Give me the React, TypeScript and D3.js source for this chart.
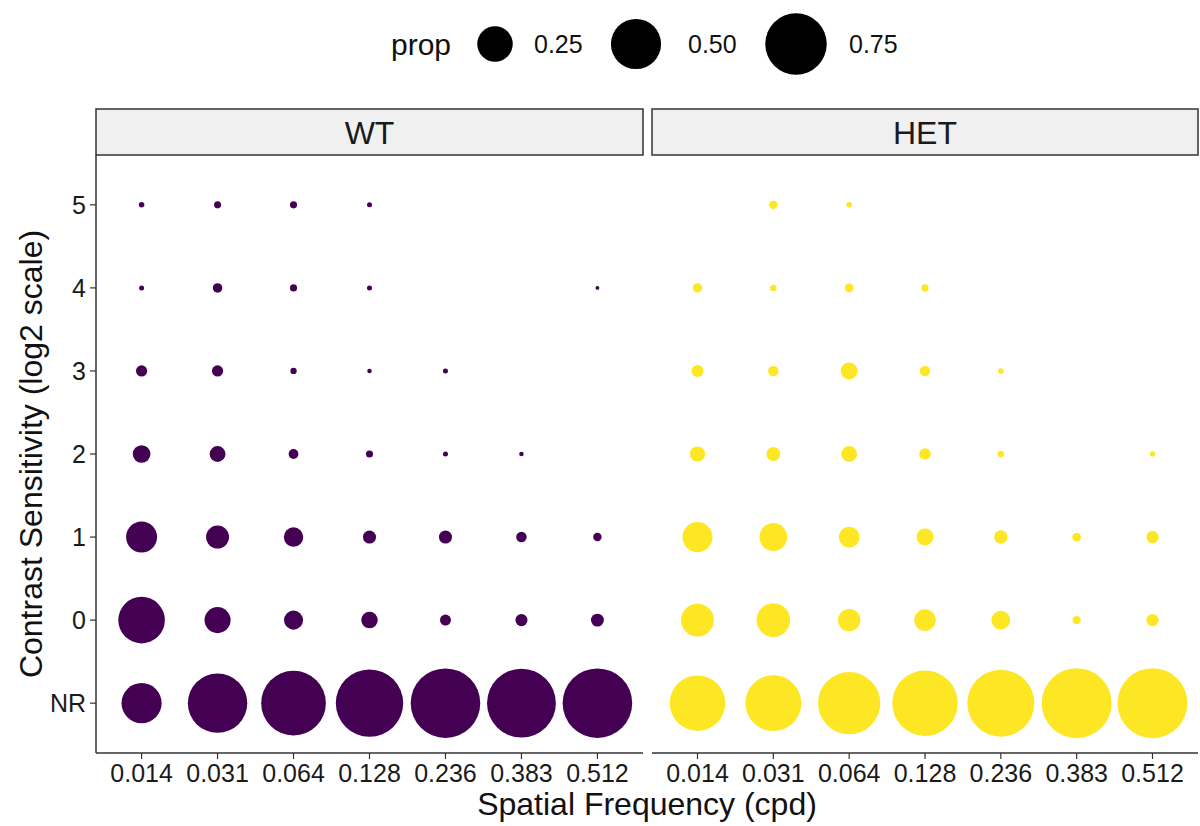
import React from "react";
import * as d3 from "d3";

const frequencies = ["0.014", "0.031", "0.064", "0.128", "0.236", "0.383", "0.512"];
const levels = ["NR", "0", "1", "2", "3", "4", "5"];
const genotypes = ["WT", "HET"];
const genotypeColors = ["#440154", "#FDE725"];
const legendValues = [0.25, 0.5, 0.75];
const legendLabels = ["0.25", "0.50", "0.75"];

// rows follow `levels` (NR, 0, 1, 2, 3, 4, 5); columns follow `frequencies`; 0 = no point
const wtProps = [
  [0.32, 0.7, 0.83, 0.9, 0.96, 0.94, 0.96],
  [0.43, 0.135, 0.072, 0.054, 0.024, 0.029, 0.033],
  [0.19, 0.105, 0.075, 0.034, 0.034, 0.022, 0.014],
  [0.062, 0.05, 0.019, 0.01, 0.005, 0.004, 0],
  [0.025, 0.025, 0.008, 0.004, 0.005, 0, 0],
  [0.005, 0.018, 0.01, 0.005, 0, 0, 0.003],
  [0.006, 0.01, 0.01, 0.005, 0, 0, 0],
];
const hetProps = [
  [0.61, 0.62, 0.77, 0.85, 0.89, 0.97, 0.97],
  [0.214, 0.224, 0.1, 0.092, 0.07, 0.014, 0.03],
  [0.18, 0.154, 0.086, 0.057, 0.036, 0.015, 0.03],
  [0.046, 0.038, 0.05, 0.027, 0.008, 0, 0.006],
  [0.029, 0.022, 0.057, 0.022, 0.006, 0, 0],
  [0.017, 0.008, 0.015, 0.01, 0, 0, 0],
  [0, 0.014, 0.006, 0, 0, 0, 0],
];
const panelData = [wtProps, hetProps];

const W = 1200;
const H = 826;
const FONT = "'Liberation Sans', Arial, sans-serif";
const panelTop = 155;
const panelBottom = 753;
const panels = [
  { left: 96, right: 643 },
  { left: 652, right: 1198 },
];
const stripTop = 109;
const axisColor = "#333333";
const legendCircleX = [495, 636, 796];
const legendLabelX = [534, 688, 849];

export default function App() {
  const y = d3.scalePoint<string>().domain(levels).range([panelBottom, panelTop]).padding(0.6);
  const r = d3.scaleSqrt().domain([0, 1]).range([0, 35.5]);

  return (
    <svg
      width={W}
      height={H}
      style={{ position: "absolute", left: 0, top: 0, background: "#fff" }}
      fontFamily={FONT}
    >
      <rect x={0} y={0} width={W} height={H} fill="#fff" />
      {/* legend */}
      <g>
        <text x={391} y={55} fontSize={30} fill="#111">prop</text>
        {legendValues.map((v, i) => (
          <g key={i}>
            <circle cx={legendCircleX[i]} cy={44} r={r(v)} fill="#000" />
            <text x={legendLabelX[i]} y={53} fontSize={25} fill="#111">
              {legendLabels[i]}
            </text>
          </g>
        ))}
      </g>

      {panels.map((p, pi) => {
        const x = d3.scalePoint<string>().domain(frequencies).range([p.left, p.right]).padding(0.6);
        const data = panelData[pi];
        return (
          <g key={pi}>
            {/* strip */}
            <rect
              x={p.left}
              y={stripTop}
              width={p.right - p.left}
              height={panelTop - stripTop}
              fill="#F0F0F0"
              stroke={axisColor}
              strokeWidth={1.5}
            />
            <text
              x={(p.left + p.right) / 2}
              y={(stripTop + panelTop) / 2 + 11.5}
              textAnchor="middle"
              fontSize={32}
              fill="#1a1a1a"
            >
              {genotypes[pi]}
            </text>
            {/* points */}
            {data.map((row, li) =>
              row.map((v, fi) =>
                v > 0 ? (
                  <circle
                    key={`${li}-${fi}`}
                    cx={x(frequencies[fi])}
                    cy={y(levels[li])}
                    r={r(v)}
                    fill={genotypeColors[pi]}
                  />
                ) : null
              )
            )}
            {/* x axis */}
            <line x1={p.left} x2={p.right} y1={panelBottom} y2={panelBottom} stroke={axisColor} strokeWidth={1.5} />
            {frequencies.map((f) => (
              <g key={f}>
                <line x1={x(f)} x2={x(f)} y1={panelBottom} y2={panelBottom + 6} stroke={axisColor} strokeWidth={1.2} />
                <text x={x(f)} y={782} textAnchor="middle" fontSize={25} fill="#1a1a1a">
                  {f}
                </text>
              </g>
            ))}
            {pi === 0 && (
              <g>
                <line x1={p.left} x2={p.left} y1={panelTop} y2={panelBottom} stroke={axisColor} strokeWidth={1.5} />
                {levels.map((l) => (
                  <g key={l}>
                    <line x1={p.left - 6} x2={p.left} y1={y(l)} y2={y(l)} stroke={axisColor} strokeWidth={1.2} />
                    <text x={p.left - 10} y={(y(l) as number) + 9} textAnchor="end" fontSize={25} fill="#1a1a1a">
                      {l}
                    </text>
                  </g>
                ))}
              </g>
            )}
          </g>
        );
      })}

      {/* axis titles */}
      <text x={(96 + 1198) / 2} y={815} textAnchor="middle" fontSize={32} fill="#111">
        Spatial Frequency (cpd)
      </text>
      <text
        transform={`translate(42, ${(panelTop + panelBottom) / 2}) rotate(-90)`}
        textAnchor="middle"
        fontSize={32}
        fill="#111"
      >
        Contrast Sensitivity (log2 scale)
      </text>
    </svg>
  );
}
